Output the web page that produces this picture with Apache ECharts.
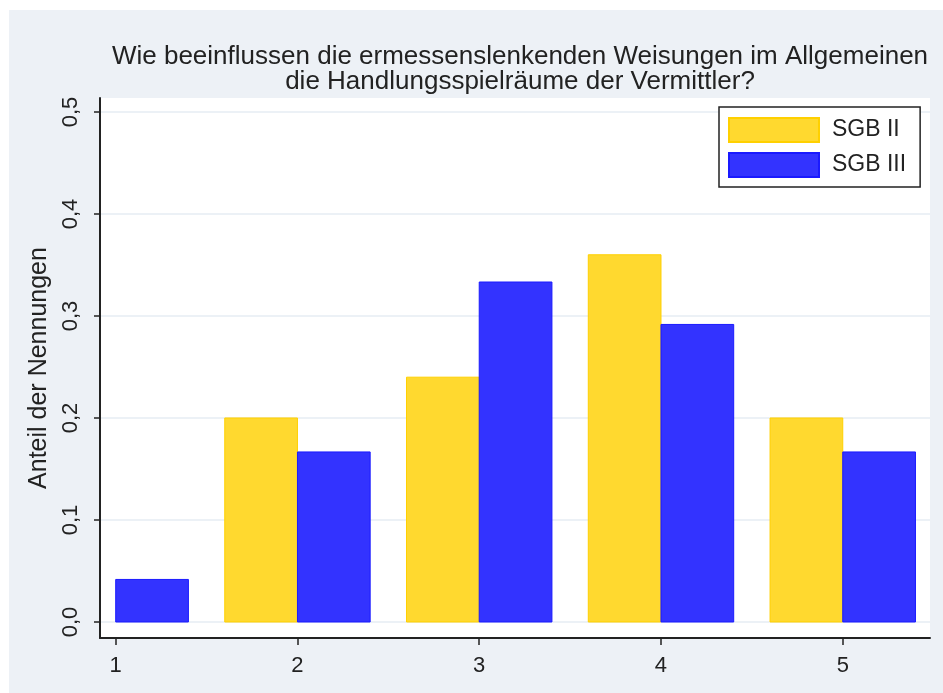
<!DOCTYPE html>
<html lang="de">
<head>
    <meta charset="UTF-8">
    <title>Ermessenslenkende Weisungen</title>
    <script src="https://cdn.jsdelivr.net/npm/echarts@6/dist/echarts.min.js"></script>
    <style>
        body { margin: 0; background: #fff; }
        #chart { position: absolute; left: 9px; top: 10px; width: 934px; height: 683px; }
    </style>
</head>
<body>
    <div id="chart"></div>

    <script>
        // Daten
        var kategorien = [1, 2, 3, 4, 5]
        var sgb2 = [0, 0.2, 0.24, 0.36, 0.2]
        var sgb3 = [0.0417, 0.1667, 0.3333, 0.2917, 0.1667]
        var yTicks = [0, 0.1, 0.2, 0.3, 0.4, 0.5]

        var schrift = "Liberation Sans"
        var balkenBreite = 0.4

        function reihe(werte) {
            return kategorien.map(function (k, i) { return [k, werte[i]] })
        }

        // linke Kante relativ zur Kategorie: SGB II links, SGB III rechts
        function zeichneBalken(versatz) {
            return function (params, api) {
                if (!api.value(1)) return null
                var x = api.value(0)
                var p0 = api.coord([x + versatz, api.value(1)])
                var p1 = api.coord([x + versatz + balkenBreite, 0])
                return {
                    type: "rect",
                    shape: { x: p0[0], y: p0[1], width: p1[0] - p0[0], height: p1[1] - p0[1] },
                    style: api.style()
                }
            }
        }

        var chart = echarts.init(document.getElementById("chart"))
        var option = {
            backgroundColor: "#edf1f6",
            animation: false,
            textStyle: { fontFamily: schrift },
            title: {
                text: "Wie beeinflussen die ermessenslenkenden Weisungen im Allgemeinen\ndie Handlungsspielräume der Vermittler?",
                left: 506,
                top: 29,
                textAlign: "center",
                textStyle: { fontFamily: schrift, fontSize: 26, fontWeight: "normal", color: "#222", lineHeight: 25 }
            },
            legend: {
                orient: "vertical",
                left: 710,
                top: 97,
                icon: "rect",
                itemWidth: 90,
                itemHeight: 24,
                itemGap: 9,
                padding: [10, 14, 9, 9],
                backgroundColor: "#fff",
                borderColor: "#222",
                borderWidth: 1.5,
                borderRadius: 0,
                textStyle: { fontFamily: schrift, fontSize: 23, color: "#222", padding: [0, 0, 0, 8] },
                data: ["SGB II", "SGB III"]
            },
            grid: {
                left: 91, right: 13, top: 88, bottom: 55,
                show: true, backgroundColor: "#fff", borderWidth: 0
            },
            xAxis: {
                type: "value",
                min: 0.9136,
                max: 5.48,
                axisLine: { onZero: false, lineStyle: { color: "#222", width: 2 } },
                axisTick: { show: true, length: 7, customValues: kategorien, lineStyle: { color: "#222", width: 1.5 } },
                axisLabel: { customValues: kategorien, margin: 17, fontSize: 22, color: "#222" },
                splitLine: { show: false }
            },
            yAxis: {
                type: "value",
                min: -0.0157,
                max: 0.5137,
                name: "Anteil der Nennungen",
                nameLocation: "middle",
                nameGap: 44,
                nameTextStyle: { fontFamily: schrift, fontSize: 25, color: "#222" },
                axisLine: { show: true, onZero: false, lineStyle: { color: "#222", width: 2 } },
                axisTick: { show: true, length: 6, customValues: yTicks, lineStyle: { color: "#222", width: 1.5 } },
                axisLabel: {
                    customValues: yTicks,
                    rotate: 90,
                    margin: 18,
                    fontSize: 22,
                    color: "#222",
                    formatter: function (v) { return v.toFixed(1).replace(".", ",") }
                },
                splitLine: { show: true, lineStyle: { color: "#e6ecf3", width: 1.5 } }
            },
            series: [
                {
                    name: "SGB II",
                    type: "custom",
                    clip: true,
                    renderItem: zeichneBalken(-balkenBreite),
                    itemStyle: { color: "#ffd92f", borderColor: "#ffd000", borderWidth: 1 },
                    encode: { x: 0, y: 1 },
                    data: reihe(sgb2)
                },
                {
                    name: "SGB III",
                    type: "custom",
                    clip: true,
                    renderItem: zeichneBalken(0),
                    itemStyle: { color: "#3333ff", borderColor: "#1a1aff", borderWidth: 1 },
                    encode: { x: 0, y: 1 },
                    data: reihe(sgb3)
                }
            ]
        }
        chart.setOption(option)
    </script>
</body>
</html>
